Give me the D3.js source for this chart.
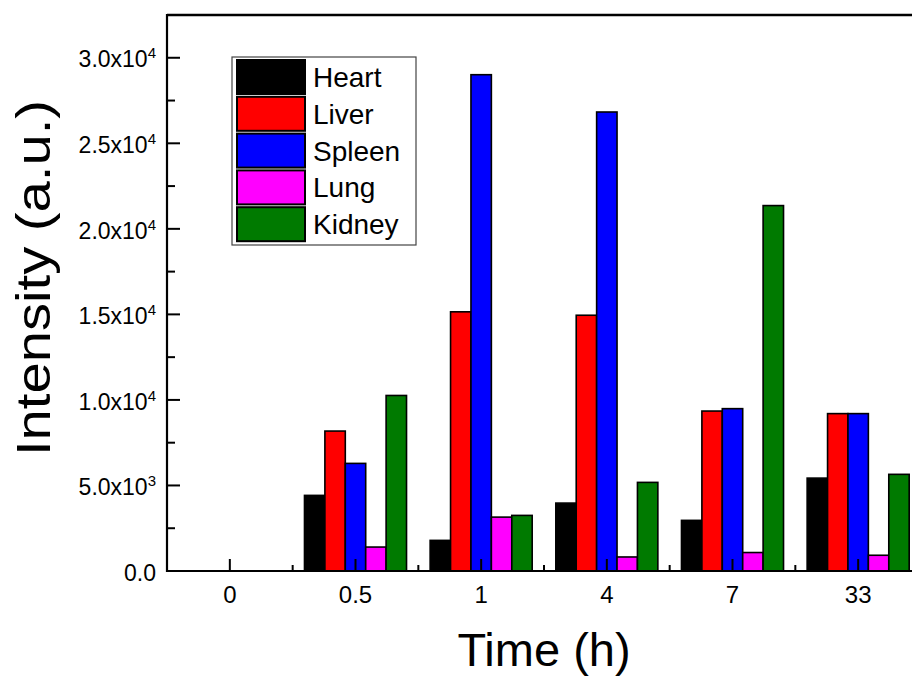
<html>
<head>
<meta charset="utf-8">
<script src="https://cdn.jsdelivr.net/npm/d3@7"></script>
<style>
  body { margin: 0; background: #fff; }
  text { font-family: "Liberation Sans", Arial, sans-serif; fill: #000; }
</style>
</head>
<body>
<script>
// data
var times = ["0", "0.5", "1", "4", "7", "33"];
var organs = ["Heart", "Liver", "Spleen", "Lung", "Kidney"];
var colors = ["#000000", "#ff0000", "#0000ff", "#ff00ff", "#007a00"];
var heart  = [0, 4420, 1790, 3970, 2960, 5430];
var liver  = [0, 8180, 15150, 14950, 9350, 9200];
var spleen = [0, 6290, 29010, 26830, 9490, 9200];
var lung   = [0, 1400, 3150, 820, 1080, 920];
var kidney = [0, 10260, 3250, 5180, 21360, 5650];
var yTicks = [0, 5000, 10000, 15000, 20000, 25000, 30000];
var yTickLabels = [["0.0", ""], ["5.0x10", "3"], ["1.0x10", "4"], ["1.5x10", "4"],
                   ["2.0x10", "4"], ["2.5x10", "4"], ["3.0x10", "4"]];
var yMinor = [2500, 7500, 12500, 17500, 22500, 27500];

var series = [heart, liver, spleen, lung, kidney];

var W = 912, H = 680;
var pL = 167, pR = 921, pT = 15, pB = 571;

var svg = d3.select("body").append("svg")
    .attr("width", W).attr("height", H);

var x0 = d3.scaleBand().domain(times).range([pL, pR]).padding(0);
var gw = x0.bandwidth() * 0.812;
var x1 = d3.scaleBand().domain(organs)
    .range([(x0.bandwidth() - gw) / 2, (x0.bandwidth() + gw) / 2]);
var y = d3.scaleLinear().domain([0, 32500]).range([pB, pT]);

// bars
var rows = [];
times.forEach(function(t, i) {
  organs.forEach(function(o, j) {
    rows.push({t: t, o: o, v: series[j][i], c: colors[j]});
  });
});
svg.append("g").selectAll("rect")
  .data(rows.filter(function(d) { return d.v > 0; }))
  .join("rect")
    .attr("x", function(d) { return x0(d.t) + x1(d.o); })
    .attr("y", function(d) { return y(d.v); })
    .attr("width", x1.bandwidth())
    .attr("height", function(d) { return y(0) - y(d.v); })
    .attr("fill", function(d) { return d.c; })
    .attr("stroke", "#000")
    .attr("stroke-width", 1.6);

// frame
svg.append("line").attr("x1", pL).attr("x2", pR + 5)
  .attr("y1", pT).attr("y2", pT).attr("stroke", "#000").attr("stroke-width", 2.5);
svg.append("line").attr("x1", pL).attr("x2", pL)
  .attr("y1", pT - 1).attr("y2", pB + 1).attr("stroke", "#000").attr("stroke-width", 2.2);
svg.append("line").attr("x1", pL - 1).attr("x2", pR + 5)
  .attr("y1", pB).attr("y2", pB).attr("stroke", "#000").attr("stroke-width", 2.2);

// y ticks (inward)
var gy = svg.append("g");
gy.selectAll("line.maj").data(yTicks).join("line").attr("class", "maj")
  .attr("x1", pL).attr("x2", pL + 13)
  .attr("y1", function(d) { return y(d); }).attr("y2", function(d) { return y(d); })
  .attr("stroke", "#000").attr("stroke-width", 2);
gy.selectAll("line.min").data(yMinor).join("line").attr("class", "min")
  .attr("x1", pL).attr("x2", pL + 8)
  .attr("y1", function(d) { return y(d); }).attr("y2", function(d) { return y(d); })
  .attr("stroke", "#000").attr("stroke-width", 2);
var lab = gy.selectAll("text").data(yTicks).join("text")
  .attr("x", pL - 11)
  .attr("y", function(d) { return y(d); })
  .attr("dy", "0.42em")
  .attr("text-anchor", "end")
  .style("font-size", "23px");
lab.append("tspan").text(function(d, i) { return yTickLabels[i][0]; });
lab.append("tspan").attr("dy", -9).style("font-size", "15px")
  .text(function(d, i) { return yTickLabels[i][1]; });

// x ticks (inward, major at centres, minor between)
var gx = svg.append("g");
gx.selectAll("line.maj").data(times).join("line").attr("class", "maj")
  .attr("x1", function(d) { return x0(d) + x0.bandwidth() / 2; })
  .attr("x2", function(d) { return x0(d) + x0.bandwidth() / 2; })
  .attr("y1", pB).attr("y2", pB - 12)
  .attr("stroke", "#000").attr("stroke-width", 2);
gx.selectAll("line.min").data(times.slice(1)).join("line").attr("class", "min")
  .attr("x1", function(d) { return x0(d); })
  .attr("x2", function(d) { return x0(d); })
  .attr("y1", pB).attr("y2", pB - 6)
  .attr("stroke", "#000").attr("stroke-width", 2);
gx.selectAll("text").data(times).join("text")
  .attr("x", function(d) { return x0(d) + x0.bandwidth() / 2; })
  .attr("y", 603)
  .attr("text-anchor", "middle")
  .style("font-size", "24px")
  .text(function(d) { return d; });

// axis titles
svg.append("text")
  .attr("x", (pL + pR) / 2).attr("y", 666)
  .attr("text-anchor", "middle")
  .style("font-size", "47px")
  .text("Time (h)");
svg.append("text")
  .attr("transform", "translate(50,278) rotate(-90)")
  .attr("text-anchor", "middle")
  .attr("textLength", 356)
  .attr("lengthAdjust", "spacingAndGlyphs")
  .style("font-size", "48px")
  .text("Intensity (a.u.)");

// legend
var lg = svg.append("g").attr("transform", "translate(232,57)");
lg.append("rect").attr("width", 184).attr("height", 188)
  .attr("fill", "#fff").attr("stroke", "#444").attr("stroke-width", 1.2);
var item = lg.selectAll("g").data(organs).join("g")
  .attr("transform", function(d, i) { return "translate(5," + (3 + i * 36.8) + ")"; });
item.append("rect").attr("width", 68).attr("height", 34)
  .attr("fill", function(d, i) { return colors[i]; })
  .attr("stroke", "#000").attr("stroke-width", 2);
item.append("text").attr("x", 76).attr("y", 17).attr("dy", "0.36em")
  .style("font-size", "28px")
  .text(function(d) { return d; });
</script>
</body>
</html>
